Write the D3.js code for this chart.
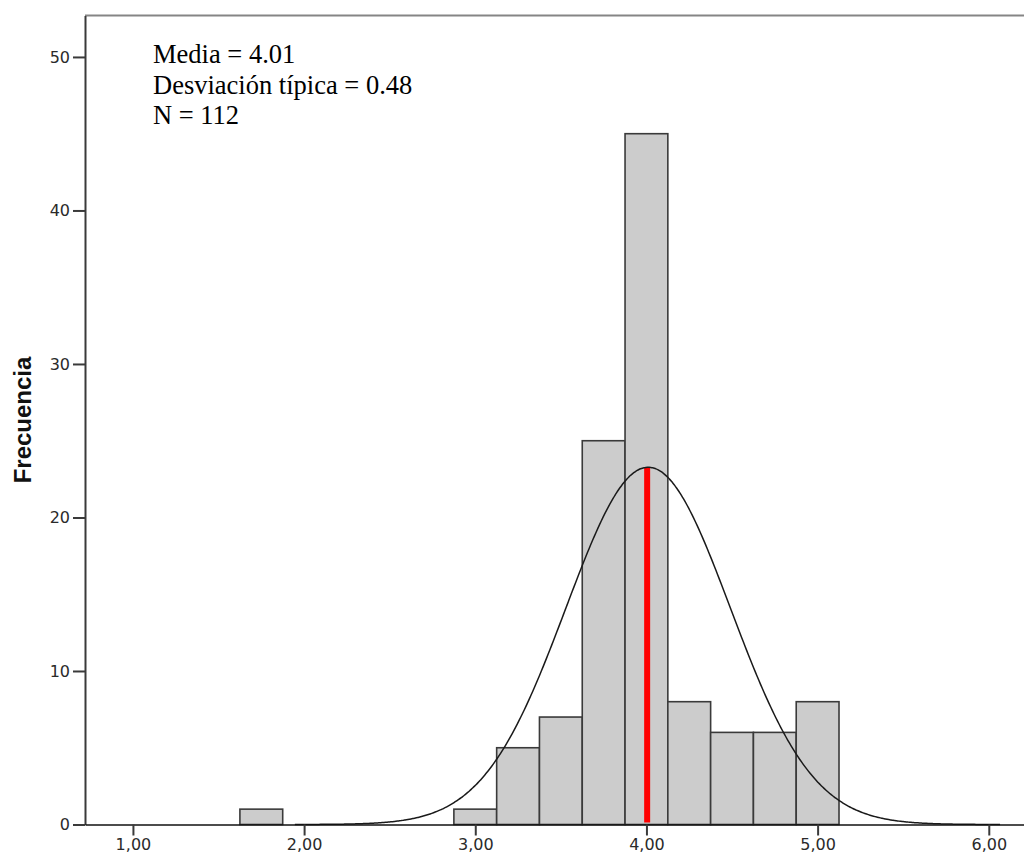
<!DOCTYPE html>
<html>
<head>
<meta charset="utf-8">
<script src="https://cdn.jsdelivr.net/npm/d3@7"></script>
<style>
    body { margin: 0; background: #fff; }
    svg { display: block; }
</style>
</head>
<body>
<script>
// histogram bins (lower / upper edge) and their frequencies
var binStarts = [1.625, 2.875, 3.125, 3.375, 3.625, 3.875, 4.125, 4.375, 4.625, 4.875];
var binEnds = [1.875, 3.125, 3.375, 3.625, 3.875, 4.125, 4.375, 4.625, 4.875, 5.125];
var counts = [1, 1, 5, 7, 25, 45, 8, 6, 6, 8];

var xTicks = [1, 2, 3, 4, 5, 6];
var yTicks = [0, 10, 20, 30, 40, 50];

// summary stats shown in the box
var statLabels = ['Media = 4.01', 'Desviación típica = 0.48', 'N = 112'];
var mean = 4.01;
var sd = 0.48;
var n = 112;

(function(d3) {
    'use strict';

    var settings = {
        width: 1024,
        height: 857,
        left: 85,
        right: 1035,
        top: 15.5,
        bottom: 824.5,
        binWidth: 0.25
    };

    var x = d3.scaleLinear().domain([0.72, 6.27]).range([settings.left, settings.right]);
    var y = d3.scaleLinear().domain([0, 52.7]).range([settings.bottom, settings.top]);

    var comma = d3.formatLocale({ decimal: ',', thousands: '.', grouping: [3], currency: ['', ''] }).format('.2f');

    var chart = d3.select('body')
        .append('svg')
        .attr('width', settings.width)
        .attr('height', settings.height);

    // frame (top / right)
    chart.append('path')
        .attr('d', 'M' + settings.left + ',' + settings.top + 'H' + settings.right + 'V' + settings.bottom)
        .attr('fill', 'none')
        .attr('stroke', '#858585')
        .attr('stroke-width', 2);

    var bins = counts.map(function(c, i) {
        return { x0: binStarts[i], x1: binEnds[i], count: c };
    });

    chart.selectAll('rect.bar')
        .data(bins)
        .enter()
        .append('rect')
        .attr('class', 'bar')
        .attr('x', function(d) { return x(d.x0); })
        .attr('y', function(d) { return y(d.count); })
        .attr('width', function(d) { return x(d.x1) - x(d.x0); })
        .attr('height', function(d) { return y(0) - y(d.count); })
        .attr('fill', '#cccccc')
        .attr('stroke', '#3a3a3a')
        .attr('stroke-width', 1.6);

    // fitted normal curve
    var peak = n * settings.binWidth / (sd * Math.sqrt(2 * Math.PI));
    var normal = function(v) {
        return peak * Math.exp(-0.5 * Math.pow((v - mean) / sd, 2));
    };
    var curveXs = d3.range(mean - 4.3 * sd, mean + 4.3 * sd, 0.01);

    // mean marker
    chart.append('line')
        .attr('x1', x(mean) - 1).attr('x2', x(mean) - 1)
        .attr('y1', y(0) - 2).attr('y2', y(peak))
        .attr('stroke', '#ff0000')
        .attr('stroke-width', 6);

    chart.append('path')
        .datum(curveXs)
        .attr('d', d3.line()
            .x(function(d) { return x(d); })
            .y(function(d) { return y(normal(d)); })
            .curve(d3.curveBasis))
        .attr('fill', 'none')
        .attr('stroke', '#1a1a1a')
        .attr('stroke-width', 1.5);

    // axes
    var yAxis = chart.append('g')
        .attr('transform', 'translate(' + settings.left + ',0)')
        .call(d3.axisLeft(y).tickValues(yTicks).tickFormat(d3.format('d')).tickSize(12).tickSizeOuter(0).tickPadding(3));
    yAxis.select('.domain').attr('stroke', '#3a3a3a').attr('stroke-width', 2);
    yAxis.selectAll('.tick line').attr('stroke', '#3a3a3a').attr('stroke-width', 2);

    var xAxis = chart.append('g')
        .attr('transform', 'translate(0,' + settings.bottom + ')')
        .call(d3.axisBottom(x).tickValues(xTicks).tickFormat(comma).tickSize(11).tickSizeOuter(0).tickPadding(3));
    xAxis.select('.domain').attr('stroke', '#111').attr('stroke-width', 1.6);
    xAxis.selectAll('.tick line').attr('stroke', '#3a3a3a').attr('stroke-width', 2);

    chart.selectAll('.tick text')
        .style('font-family', '"DejaVu Sans", sans-serif')
        .style('font-size', '16px')
        .style('fill', '#2a2a2a');

    chart.append('text')
        .attr('transform', 'translate(31,420) rotate(-90)')
        .attr('text-anchor', 'middle')
        .style('font-family', '"Liberation Sans", Arial, sans-serif')
        .style('font-weight', 'bold')
        .style('font-size', '24px')
        .style('fill', '#111')
        .text('Frecuencia');

    chart.selectAll('text.stat')
        .data(statLabels)
        .enter()
        .append('text')
        .attr('class', 'stat')
        .attr('x', 153)
        .attr('y', function(d, i) { return 63 + i * 30.5; })
        .style('font-family', '"Liberation Serif", "Times New Roman", serif')
        .style('font-size', '26.5px')
        .style('fill', '#000')
        .text(function(d) { return d; });

})(window.d3);
</script>
</body>
</html>
